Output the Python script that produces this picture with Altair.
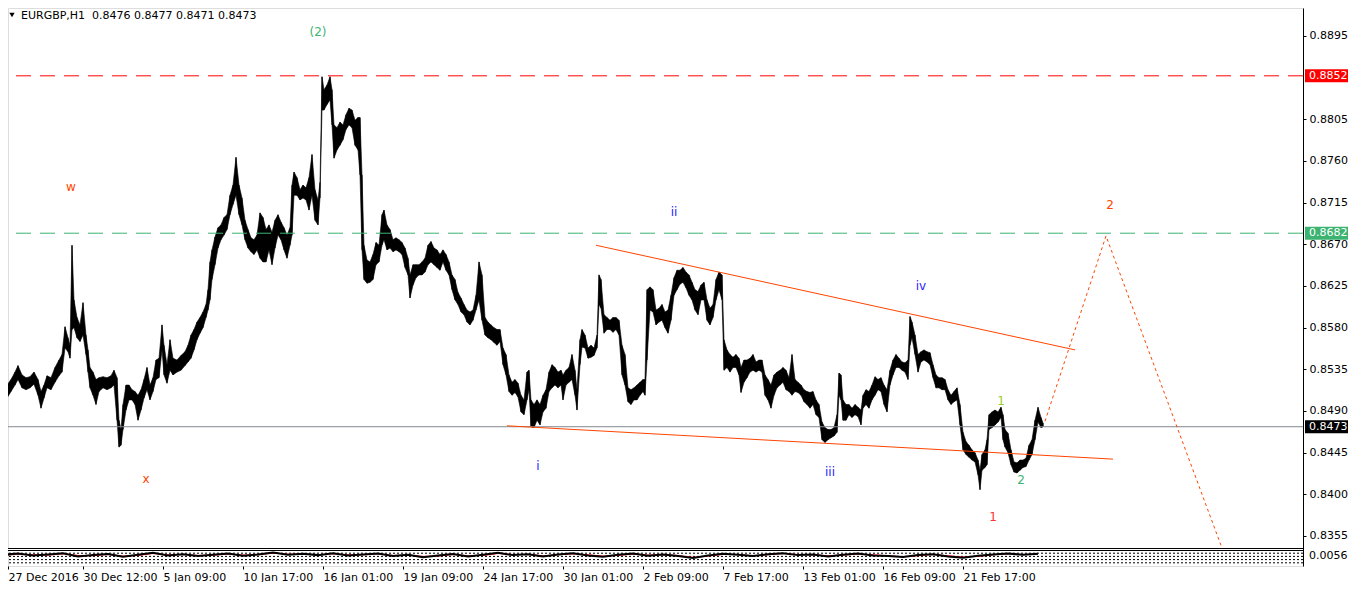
import altair as alt
import pandas as pd

TITLE = "EURGBP,H1 \u00a00.8476 0.8477 0.8471 0.8473"

# sampled H1 bars: (bar index, high, low) in 1/10000 of price
WEEK1 = [(0,8513,8500),(4,8518,8504),(8,8524,8511),(12,8532,8518),(15,8539,8524),(19,8529,8515),
         (23,8526,8513),(27,8527,8515),(31,8532,8519),(35,8524,8507),(38,8511,8493),(41,8518,8504),
         (44,8528,8515),(48,8526,8513),(52,8537,8521),(56,8545,8528),(59,8551,8532),(62,8581,8558),
         (65,8569,8554),(67,8561,8547),(69,8669,8578),(71,8610,8580),(74,8591,8569),(77,8583,8565),
         (80,8607,8572),(83,8572,8551),(85,8556,8532),(87,8537,8515),(90,8532,8507),(93,8524,8497),
         (96,8526,8511)]
WEEK2 = [(100,8527,8515),(104,8526,8513),(108,8528,8515),(111,8534,8518),(114,8526,8480),(116,8480,8451),
         (118,8470,8453),(120,8497,8470),(123,8518,8491),(126,8518,8502),(129,8513,8502),(132,8511,8497),
         (135,8507,8480),(138,8513,8491),(141,8524,8504),(144,8537,8513),(147,8518,8502),(150,8526,8511),
         (153,8545,8524),(156,8547,8526),(159,8583,8556),(161,8561,8529),(164,8540,8520),(167,8567,8534),
         (170,8547,8529),(174,8545,8532),(178,8550,8534),(182,8554,8539),(185,8561,8543),(188,8572,8547),
         (191,8578,8556),(194,8586,8567),(197,8591,8574)]
WEEK3 = [(200,8597,8580),(203,8605,8591),(205,8621,8599),(207,8651,8610),(209,8664,8632),(212,8678,8648),
         (215,8688,8666),(218,8691,8675),(221,8699,8680),(224,8702,8686),(227,8723,8702),(230,8734,8713),
         (233,8764,8723),(236,8734,8702),(239,8720,8691),(242,8696,8675),(245,8686,8666),(248,8677,8662),
         (251,8675,8659),(254,8680,8664),(257,8704,8655),(260,8699,8651),(263,8686,8651),(266,8691,8664),
         (269,8683,8648),(272,8696,8666),(275,8702,8680),(278,8694,8675),(281,8688,8664),(284,8680,8655),
         (287,8688,8669),(289,8734,8680),(291,8748,8723),(294,8742,8723),(297,8729,8718),(300,8734,8720),
         (303,8731,8718),(306,8742,8707),(309,8767,8723),(312,8729,8696),(315,8718,8691),(317,8737,8720)]
WEEK4 = [(319,8851,8815),(321,8837,8815),(324,8842,8821),(327,8851,8826),(329,8837,8799),(331,8799,8763),
         (334,8796,8772),(337,8802,8777),(340,8799,8783),(343,8810,8794),(346,8817,8799),(349,8815,8796),
         (352,8804,8777),(355,8807,8772),(357,8807,8745),(359,8745,8664),(361,8669,8632),(364,8653,8628),
         (367,8651,8629),(370,8659,8632),(373,8672,8648),(376,8669,8651),(379,8702,8669),(381,8707,8675),
         (384,8691,8664),(387,8686,8666),(390,8675,8662),(393,8677,8664),(396,8675,8662),(399,8672,8659),
         (402,8666,8645),(405,8655,8637),(407,8637,8612)]
WEEK5 = [(410,8648,8626),(413,8648,8634),(416,8648,8637),(419,8651,8637),(422,8655,8640),(425,8669,8648),
         (428,8673,8651),(431,8666,8648),(434,8664,8645),(437,8659,8642),(440,8664,8651),(443,8659,8642),
         (446,8651,8637),(449,8637,8621),(452,8632,8610),(455,8618,8605),(458,8612,8597),(461,8605,8594),
         (464,8599,8586),(467,8597,8583),(470,8599,8588),(473,8615,8599),(476,8651,8610),(479,8637,8588),
         (482,8591,8572),(485,8586,8569),(488,8583,8567),(491,8580,8564),(494,8578,8561),(497,8578,8565),
         (500,8558,8540),(503,8551,8529),(506,8529,8511),(509,8521,8507),(512,8524,8510),(515,8520,8505),
         (518,8507,8489),(521,8502,8486)]
WEEK6 = [(524,8532,8502),(526,8534,8513),(528,8502,8473),(531,8497,8472),(534,8502,8480),(537,8497,8475),
         (540,8507,8489),(543,8513,8493),(546,8532,8511),(549,8540,8515),(552,8537,8518),(555,8532,8515),
         (558,8534,8518),(560,8529,8502),(563,8534,8518),(566,8537,8521),(569,8551,8524),(572,8534,8507),
         (574,8513,8491),(577,8567,8540),(579,8578,8559),(582,8572,8558),(585,8558,8547),(588,8561,8548),
         (591,8558,8550),(594,8572,8558),(596,8637,8605),(598,8632,8601),(601,8594,8574),(604,8591,8578),
         (607,8588,8578),(610,8591,8575),(613,8591,8578),(616,8588,8572),(619,8561,8529),(622,8551,8518),
         (625,8515,8500),(628,8513,8497),(631,8515,8502),(634,8518,8502),(637,8521,8507),(640,8524,8511),
         (642,8524,8507)]
WEEK7 = [(644,8621,8545),(647,8624,8599),(650,8621,8597),(653,8599,8583),(656,8601,8586),(659,8605,8588),
         (662,8597,8580),(665,8599,8574),(668,8615,8588),(671,8634,8615),(674,8642,8621),(677,8642,8627),
         (680,8645,8629),(683,8640,8623),(686,8637,8615),(689,8629,8610),(692,8621,8599),(695,8619,8594),
         (698,8626,8610),(701,8629,8610),(704,8610,8588),(707,8601,8583),(710,8605,8591),(713,8632,8610),
         (716,8640,8621),(719,8637,8610),(721,8567,8534),(724,8556,8537),(727,8551,8532),(730,8548,8537),
         (733,8551,8537),(736,8547,8529),(738,8537,8510),(741,8545,8521),(744,8545,8526),(747,8547,8532),
         (750,8551,8534),(753,8543,8532),(756,8545,8534)]
WEEK8 = [(759,8545,8532),(762,8529,8507),(765,8524,8502),(768,8518,8493),(771,8529,8507),(774,8532,8515),
         (777,8534,8518),(780,8537,8521),(783,8534,8513),(786,8526,8511),(789,8551,8507),(792,8524,8511),
         (795,8521,8510),(798,8518,8507),(801,8513,8500),(804,8511,8497),(807,8510,8493),(810,8511,8497),
         (813,8502,8486),(816,8497,8483),(819,8478,8459),(822,8472,8456),(825,8470,8459),(828,8470,8461),
         (831,8472,8463),(834,8486,8467),(836,8531,8507),(838,8529,8502),(840,8502,8480),(843,8497,8480),
         (846,8497,8486),(849,8493,8483),(852,8497,8486),(855,8494,8484),(858,8491,8475),(860,8507,8493),
         (863,8513,8497),(866,8511,8493),(869,8518,8502),(872,8527,8507),(875,8524,8513),(878,8526,8511),
         (881,8518,8497),(884,8513,8489)]
WEEK9 = [(887,8534,8518),(890,8545,8529),(893,8551,8537),(896,8547,8537),(899,8543,8534),(902,8542,8532),
         (905,8545,8524),(907,8592,8561),(909,8586,8569),(912,8572,8551),(915,8551,8532),(918,8554,8543),
         (921,8556,8545),(924,8554,8543),(927,8553,8540),(930,8540,8526),(933,8529,8515),(936,8526,8515),
         (939,8526,8513),(942,8524,8513),(945,8513,8502),(948,8507,8497),(951,8511,8500),(954,8515,8502),
         (957,8497,8475),(960,8467,8448),(963,8457,8443),(966,8453,8440),(969,8448,8437),(972,8445,8435),
         (975,8437,8421),(977,8426,8405),(979,8443,8426),(982,8448,8429),(984,8459,8432),(986,8486,8470),
         (989,8489,8472),(992,8491,8475),(995,8489,8478),(998,8494,8483),(1000,8486,8459),(1002,8470,8451),
         (1005,8466,8445),(1008,8448,8432),(1011,8435,8424),(1014,8434,8423),(1017,8437,8426),(1020,8437,8429),
         (1023,8439,8430),(1026,8453,8437),(1029,8459,8443),(1032,8480,8459),(1035,8494,8478),(1038,8483,8472),
         (1040,8477,8473)]

X_TICKS = [5, 80, 160, 240, 320, 400, 480, 560, 640, 720, 800, 880, 960]
X_LABELS = ["27 Dec 2016", "30 Dec 12:00", "5 Jan 09:00", "10 Jan 17:00", "16 Jan 01:00",
            "19 Jan 09:00", "24 Jan 17:00", "30 Jan 01:00", "2 Feb 09:00", "7 Feb 17:00",
            "13 Feb 01:00", "16 Feb 09:00", "21 Feb 17:00"]
Y_TICKS = [0.8355, 0.8400, 0.8445, 0.8490, 0.8535, 0.8580, 0.8625, 0.8670, 0.8715, 0.8760, 0.8805, 0.8895]

RED_LEVEL = 0.8852
GREEN_LEVEL = 0.8682
LAST_PRICE = 0.8473

LOWER_LINE = [(504, 0.8474), (1110, 0.8438)]
UPPER_LINE = [(593, 0.8669), (1072, 0.8556)]
PROJECTION = [(1042, 0.8479), (1103, 0.8679), (1219, 0.8342)]

ANNOTATIONS = [("(2)", 315, 0.8899, "#3CB371"), ("w", 68, 0.8732, "#FF4500"), ("x", 143, 0.8417, "#FF4500"),
               ("ii", 671, 0.8705, "#2B1BFF"), ("i", 535, 0.8431, "#2B1BFF"), ("iii", 827, 0.8424, "#2B1BFF"),
               ("iv", 918, 0.8625, "#2B1BFF"), ("1", 998, 0.8501, "#9ACD32"), ("2", 1018, 0.8416, "#3CB371"),
               ("1", 990, 0.8375, "#FF3030"), ("2", 1107, 0.8712, "#FF4500")]

BOXES = [("0.8852", 0.8852, "#FF0000"), ("0.8682", 0.8682, "#3CB371"), ("0.8473", 0.8473, "#000000")]

SUB_MAIN = [70, 78, 65, 72, 80, 60, 68, 75, 58, 70, 82, 66, 74, 62, 70, 78, 64, 72, 85, 70, 76, 68, 80, 66,
            72, 78, 62, 70, 55, 66, 75, 60, 70, 82, 68, 74, 60, 72, 80, 66, 58, 70, 78, 64, 72, 62, 50, 66,
            76, 70, 62, 74, 80, 68, 72, 60, 70, 78, 66, 62, 56, 68, 74, 60, 52, 64, 72, 78, 70, 76]
SUB_SIGNAL = [66, 74, 70, 68, 76, 66, 64, 72, 62, 66, 78, 70, 72, 66, 68, 74, 68, 70, 80, 74, 74, 70, 76, 70,
              70, 76, 66, 68, 60, 62, 72, 64, 66, 78, 72, 72, 64, 70, 76, 70, 62, 66, 74, 68, 70, 66, 54, 62,
              72, 72, 64, 70, 78, 72, 70, 64, 68, 74, 70, 64, 58, 64, 72, 64, 56, 60, 70, 76, 72, 74]
SUB_LEVELS = [80, 60, 40, 20]
SUB_AXIS_TEXT = "0.0056"

FONT = "DejaVu Sans"
W = 1295          # plot width
H = 558           # plot height: price pane (540) + gap + indicator pane (16)
PRICE_H = 540
X_DOMAIN = [5, 1300]
Y_DOMAIN = [0.832258, 0.892524]      # price pane scale, extended over the indicator pane
SUB_DOMAIN = [0, 3487.5]             # indicator 0..100 occupies the bottom 16 px

bars = pd.DataFrame(WEEK1 + WEEK2 + WEEK3 + WEEK4 + WEEK5 + WEEK6 + WEEK7 + WEEK8 + WEEK9,
                    columns=["bar", "hi", "lo"])
bars["high"] = bars["hi"] / 10000
bars["low"] = bars["lo"] / 10000

xs = alt.Scale(domain=X_DOMAIN, nice=False, zero=False)
ys = alt.Scale(domain=Y_DOMAIN, nice=False, zero=False)
ss = alt.Scale(domain=SUB_DOMAIN, nice=False, zero=False)

yaxis = alt.Axis(orient="right", values=Y_TICKS, format=".4f", title=None, grid=False,
                 domain=True, domainColor="black", ticks=True, tickSize=3, tickColor="black",
                 labelFont=FONT, labelFontSize=11, labelColor="black", labelPadding=3,
                 labelOverlap=False, labelBound=False, labelFlush=False)
xaxis = alt.Axis(values=X_TICKS, labelExpr="%s[round(datum.value/80)]" % str(X_LABELS), title=None,
                 grid=False, domain=False, ticks=True, tickSize=3, tickColor="black",
                 labelFont=FONT, labelFontSize=11, labelColor="black", labelAlign="left",
                 labelBaseline="top", labelPadding=2, labelOverlap=False, labelBound=False, labelFlush=False)


def X(field):
    return alt.X(field, type="quantitative", scale=xs, axis=xaxis)


def Y(field):
    return alt.Y(field, type="quantitative", scale=ys, axis=yaxis)


def S(field):
    return alt.Y(field, type="quantitative", scale=ss, axis=None)


price = alt.Chart(bars).mark_area(color="black", stroke="black", strokeWidth=0.6,
                                  interpolate="linear", clip=True).encode(
    x=X("bar"), y=Y("low"), y2="high")
spikes = alt.Chart(bars).mark_rule(color="black", strokeWidth=1, clip=True).encode(
    x=X("bar"), y=Y("low"), y2="high")

lvl = pd.DataFrame({"p": [RED_LEVEL, GREEN_LEVEL, LAST_PRICE], "k": ["red", "green", "cur"]})
red_line = alt.Chart(lvl[lvl.k == "red"]).mark_rule(color="#FF0000", strokeWidth=1, strokeDash=[15, 9]).encode(y=Y("p"))
green_line = alt.Chart(lvl[lvl.k == "green"]).mark_rule(color="#3CB371", strokeWidth=1, strokeDash=[15, 9]).encode(y=Y("p"))
cur_line = alt.Chart(lvl[lvl.k == "cur"]).mark_rule(color="#808890", strokeWidth=1).encode(y=Y("p"))

low_df = pd.DataFrame(LOWER_LINE, columns=["bar", "p"])
up_df = pd.DataFrame(UPPER_LINE, columns=["bar", "p"])
proj_df = pd.DataFrame(PROJECTION, columns=["bar", "p"])
low_line = alt.Chart(low_df).mark_line(color="#FF4500", strokeWidth=1).encode(x=X("bar"), y=Y("p"))
up_line = alt.Chart(up_df).mark_line(color="#FF4500", strokeWidth=1).encode(x=X("bar"), y=Y("p"))
proj_line = alt.Chart(proj_df).mark_line(color="#FF4500", strokeWidth=1, strokeDash=[3, 3]).encode(
    x=X("bar"), y=Y("p"))

ann = pd.DataFrame(ANNOTATIONS, columns=["t", "bar", "p", "c"])
ann_text = alt.Chart(ann).mark_text(font=FONT, fontSize=12, align="center", baseline="middle").encode(
    x=X("bar"), y=Y("p"), text="t:N", color=alt.Color("c:N", scale=None))

box = pd.DataFrame(BOXES, columns=["t", "p", "c"])
box_bg = alt.Chart(box).mark_rule(strokeWidth=13, strokeCap="butt").encode(
    y=Y("p"), x=alt.value(W + 2), x2=alt.value(W + 45), color=alt.Color("c:N", scale=None))
box_tx = alt.Chart(box).mark_text(font=FONT, fontSize=11, align="left", baseline="middle", color="white").encode(
    y=Y("p"), x=alt.value(W + 6), text="t:N")

ttl = pd.DataFrame({"t": [TITLE]})
title_tx = alt.Chart(ttl).mark_text(font=FONT, fontSize=11, align="left", baseline="middle", color="black").encode(
    x=alt.value(13), y=alt.value(8), text="t:N")
title_tri = alt.Chart(ttl).mark_point(shape="triangle-down", filled=True, color="black", size=28, opacity=1).encode(
    x=alt.value(4), y=alt.value(7))

# pane separators: price pane bottom border, white gap, indicator pane top border
sep = pd.DataFrame({"k": ["a"]})
sep_white = alt.Chart(sep).mark_rule(color="white", strokeWidth=1).encode(
    x=alt.value(0), x2=alt.value(W), y=alt.value(PRICE_H + 1.5))
sep_top = alt.Chart(sep).mark_rule(color="black", strokeWidth=1).encode(
    x=alt.value(0), x2=alt.value(W), y=alt.value(PRICE_H + 0.5))
sep_bot = alt.Chart(sep).mark_rule(color="black", strokeWidth=1).encode(
    x=alt.value(0), x2=alt.value(W), y=alt.value(PRICE_H + 2.5))

sub_df = pd.DataFrame({"bar": [i * 15 for i in range(len(SUB_MAIN))], "m": SUB_MAIN, "s": SUB_SIGNAL})
lv_df = pd.DataFrame({"v": SUB_LEVELS})
sub_lv = alt.Chart(lv_df).mark_rule(color="black", strokeWidth=1, strokeDash=[2, 2]).encode(y=S("v"))
sub_sig = alt.Chart(sub_df).mark_line(color="#FF0000", strokeWidth=1, clip=True).encode(x=X("bar"), y=S("s"))
sub_main = alt.Chart(sub_df).mark_line(color="black", strokeWidth=2, clip=True).encode(x=X("bar"), y=S("m"))
sub_lbl = alt.Chart(pd.DataFrame({"t": [SUB_AXIS_TEXT]})).mark_text(
    font=FONT, fontSize=11, align="left", baseline="middle", color="black").encode(
    x=alt.value(W + 6), y=alt.value(PRICE_H + 8), text="t:N")

price_layers = alt.layer(price, spikes, red_line, green_line, cur_line, low_line, up_line, proj_line,
                         ann_text, box_bg, box_tx, title_tx, title_tri, sep_white, sep_top, sep_bot)
sub_layers = alt.layer(sub_lv, sub_sig, sub_main, sub_lbl)

chart = alt.layer(price_layers, sub_layers).resolve_scale(y="independent").properties(
    width=W, height=H,
    autosize=alt.AutoSizeParams(type="none"),
    padding={"left": 0, "top": 0, "right": 45, "bottom": 16},
).configure_view(stroke="black", strokeWidth=1).configure(background="white")

chart.save("out.html", embed_options={"renderer": "svg", "actions": False})
